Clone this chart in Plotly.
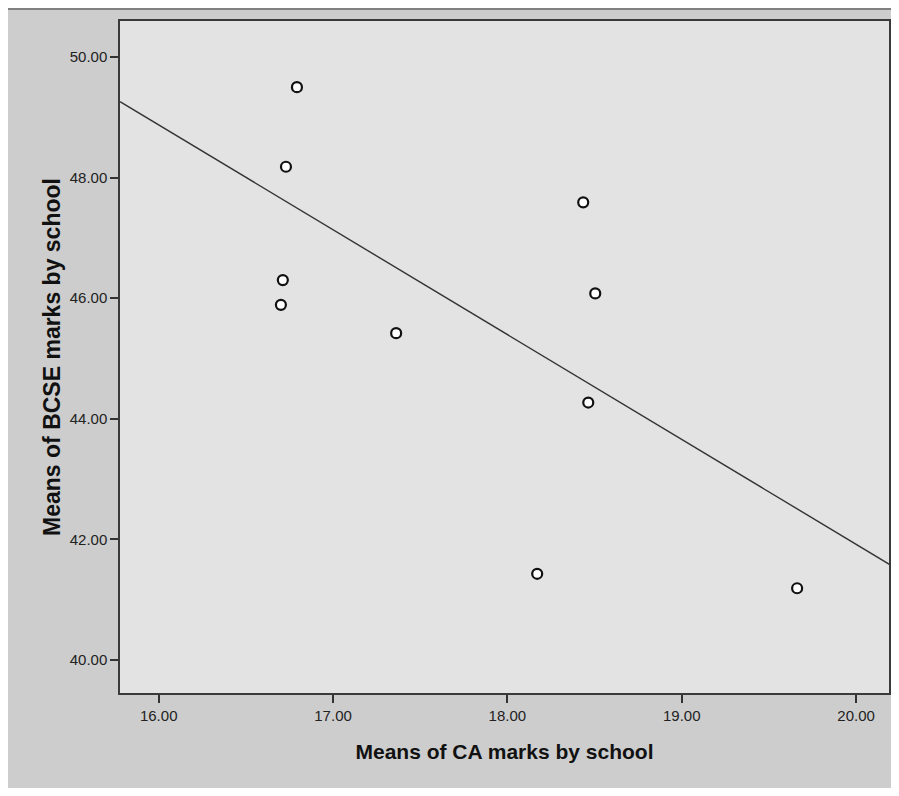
import plotly.graph_objects as go

# Data
ca_means = [16.793, 16.730, 16.712, 16.701, 17.362, 18.435, 18.504, 18.464, 18.171, 19.662]
bcse_means = [49.50, 48.18, 46.30, 45.89, 45.42, 47.59, 46.08, 44.27, 41.43, 41.19]

# Fit line (linear regression) endpoints
fit_x = [15.778, 20.224]
fit_y = [49.26, 41.53]

x_ticks = [16, 17, 18, 19, 20]
x_tick_labels = ["16.00", "17.00", "18.00", "19.00", "20.00"]
y_ticks = [40, 42, 44, 46, 48, 50]
y_tick_labels = ["40.00", "42.00", "44.00", "46.00", "48.00", "50.00"]

fig = go.Figure()
fig.add_trace(go.Scatter(
    x=fit_x, y=fit_y, mode="lines",
    line=dict(color="#333333", width=1.4),
    hoverinfo="skip", showlegend=False,
))
fig.add_trace(go.Scatter(
    x=ca_means, y=bcse_means, mode="markers",
    marker=dict(symbol="circle", size=10, color="white",
                line=dict(color="#111111", width=2.2)),
    showlegend=False,
))

font_family = "Liberation Sans, Arial, sans-serif"

fig.update_layout(
    width=883, height=780,
    margin=dict(l=112, r=2, t=13, b=95),
    paper_bgcolor="#cdcdcd",
    plot_bgcolor="#e3e3e3",
    font=dict(family=font_family, color="#222222"),
    xaxis=dict(
        range=[15.778, 20.189],
        tickvals=x_ticks, ticktext=x_tick_labels,
        ticks="outside", ticklen=8, tickwidth=1.5, tickcolor="#333333",
        tickfont=dict(size=15, color="#222222"),
        showgrid=False, zeroline=False,
        showline=True, linecolor="#3a3a3a", linewidth=1.5, mirror=True,
        title=dict(text="<b>Means of CA marks by school</b>",
                   font=dict(size=21, color="#111111"), standoff=22),
        automargin=False,
    ),
    yaxis=dict(
        range=[39.453, 50.597],
        tickvals=y_ticks, ticktext=y_tick_labels,
        ticks="outside", ticklen=8, tickwidth=1.5, tickcolor="#333333",
        tickfont=dict(size=15, color="#222222"),
        showgrid=False, zeroline=False,
        showline=True, linecolor="#3a3a3a", linewidth=1.5, mirror=True,
        title=dict(text="<b>Means of BCSE marks by school</b>",
                   font=dict(size=23, color="#111111"), standoff=3),
        automargin=False,
    ),
    shapes=[
        dict(type="rect", xref="paper", yref="paper",
             xsizemode="pixel", xanchor=0, x0=-112, x1=800,
             ysizemode="pixel", yanchor=1, y0=13, y1=11,
             fillcolor="#808080", line=dict(width=0), layer="below"),
    ],
)

fig.write_html("out.html")
